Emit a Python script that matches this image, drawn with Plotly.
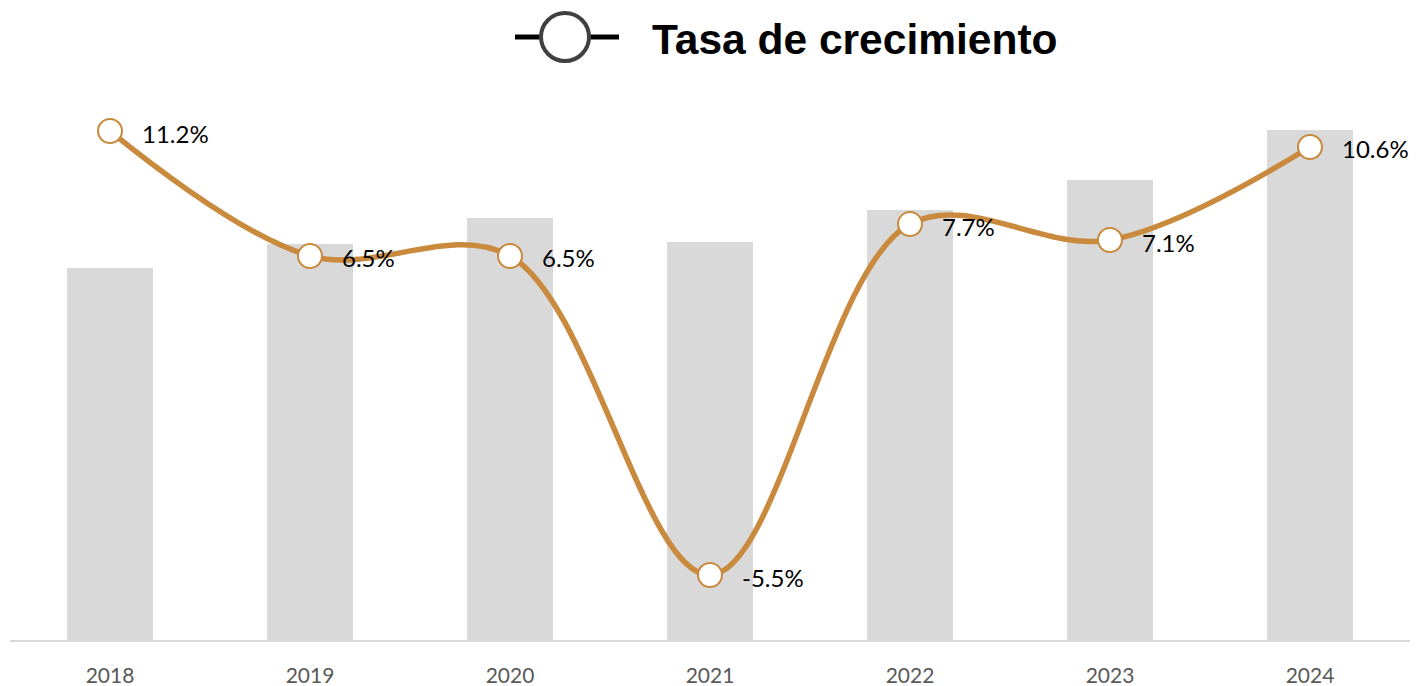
import plotly.graph_objects as go

# Series values
years = ["2018", "2019", "2020", "2021", "2022", "2023", "2024"]
valores = [372, 396, 422, 398, 430, 460, 510]
tasa_crecimiento = [11.2, 6.5, 6.5, -5.5, 7.7, 7.1, 10.6]
legend_label = "Tasa de crecimiento"

W, H = 1422, 686
ML, MR, MT, MB = 10, 12, 100, 46
PW, PH = W - ML - MR, H - MT - MB

LINE_COLOR = "#C98A3E"
BAR_COLOR = "#D9D9D9"


def px_x(x):
    return (x - ML) / PW


def px_y(y):
    return (H - MB - y) / PH


fig = go.Figure()

fig.add_trace(go.Bar(
    x=years, y=valores, width=0.43,
    marker=dict(color=BAR_COLOR, line=dict(width=0)),
    yaxis="y", showlegend=False, hoverinfo="skip",
))

fig.add_trace(go.Scatter(
    x=years, y=tasa_crecimiento, yaxis="y2", mode="lines+markers",
    line=dict(color=LINE_COLOR, width=5.5, shape="spline", smoothing=1.0),
    marker=dict(size=24, color="white", line=dict(color=LINE_COLOR, width=2)),
    name=legend_label, showlegend=False,
))

annotations = []
for i, v in enumerate(tasa_crecimiento):
    annotations.append(dict(
        x=i, y=v, xref="x", yref="y2", text=f"{v:.1f}%",
        showarrow=False, xanchor="left", yanchor="middle",
        xshift=30, yshift=-2,
        font=dict(family="Lato", size=24, color="#000000"),
    ))

# Legend drawn at the top: line, hollow circle and bold label
annotations.append(dict(
    x=px_x(650), y=px_y(40), xref="paper", yref="paper",
    text=f"<b>{legend_label}</b>", showarrow=False,
    xanchor="left", yanchor="middle",
    font=dict(family="Liberation Sans", size=42.5, color="#000000"),
))

shapes = [
    dict(type="line", xref="paper", yref="paper",
         x0=px_x(515), x1=px_x(619), y0=px_y(37), y1=px_y(37),
         line=dict(color="#000000", width=5)),
    dict(type="circle", xref="paper", yref="paper",
         x0=px_x(541), x1=px_x(589), y0=px_y(61), y1=px_y(13),
         fillcolor="white", line=dict(color="#404040", width=4)),
]

fig.update_layout(
    width=W, height=H,
    margin=dict(l=ML, r=MR, t=MT, b=MB),
    paper_bgcolor="white", plot_bgcolor="white",
    bargap=0.57,
    xaxis=dict(
        type="category", showgrid=False, zeroline=False,
        showline=True, linecolor="#D9D9D9", linewidth=2,
        ticks="", ticklabelstandoff=16, automargin=False,
        tickfont=dict(family="Lato", size=21, color="#595959"),
        range=[-0.5, 6.5],
    ),
    yaxis=dict(range=[0, 540], visible=False, fixedrange=True,
               automargin=False),
    yaxis2=dict(range=[-7.944, 12.367], overlaying="y", visible=False,
                fixedrange=True, automargin=False),
    annotations=annotations,
    shapes=shapes,
    showlegend=False,
)

fig.write_html("out.html")
